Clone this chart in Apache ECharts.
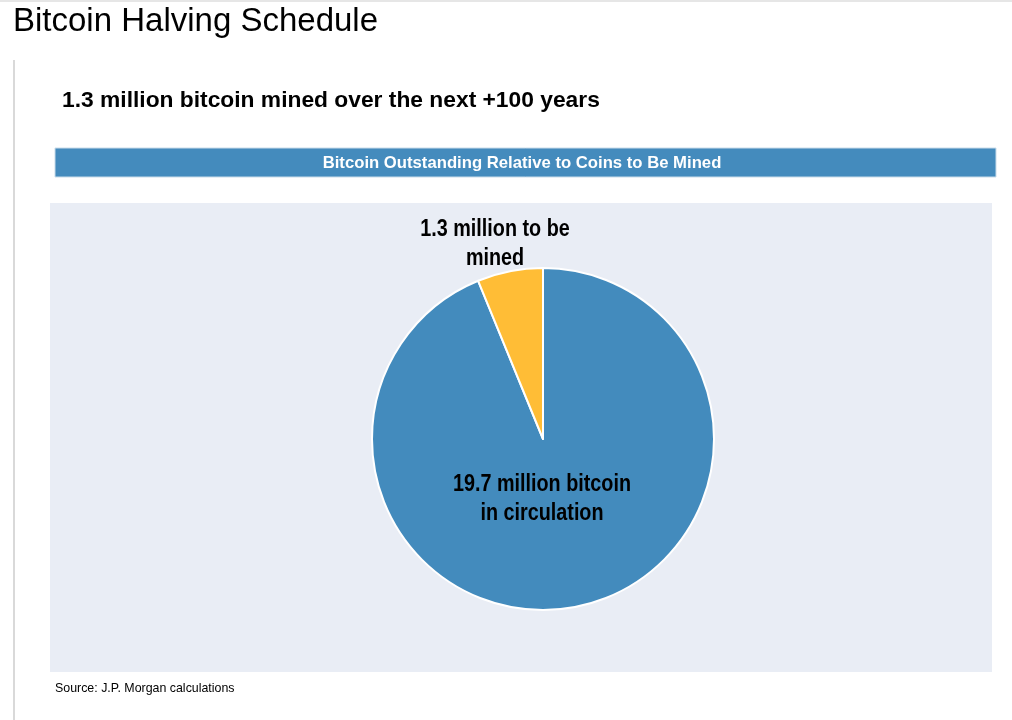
<!DOCTYPE html>
<html>
<head>
<meta charset="utf-8">
<script src="https://cdn.jsdelivr.net/npm/echarts@6/dist/echarts.min.js"></script>
<style>
html,body{margin:0;padding:0;background:#fff;}
#chart{width:1012px;height:720px;}
</style>
</head>
<body>
<div id="chart"></div>
<script>
const pageTitle = "Bitcoin Halving Schedule";
const subtitle = "1.3 million bitcoin mined over the next +100 years";
const bannerTitle = "Bitcoin Outstanding Relative to Coins to Be Mined";
const sourceNote = "Source: J.P. Morgan calculations";
const categories = ["19.7 million bitcoin\nin circulation", "1.3 million to be\nmined"];
const values = [19.7, 1.3];
const colors = ["#438bbd", "#ffbd36"];

const chart = echarts.init(document.getElementById('chart'));
const sans = "'Liberation Sans', Arial, sans-serif";
const labelFont = 'bold 24px ' + sans;
const labelPos = [[542, 499], [495, 243.5]];

chart.setOption({
  animation: false,
  backgroundColor: '#fff',
  graphic: [
    { type: 'rect', shape: { x: 0, y: 0, width: 1012, height: 2 }, style: { fill: '#e6e6e6' }, z: 0 },
    { type: 'rect', shape: { x: 13, y: 60, width: 2, height: 660 }, style: { fill: '#d9d9d9' }, z: 0 },
    { type: 'rect', shape: { x: 55, y: 148, width: 941, height: 29 }, style: { fill: '#448bbd', stroke: '#c9dcea', lineWidth: 1 }, z: 0 },
    { type: 'rect', shape: { x: 50, y: 203, width: 942, height: 469 }, style: { fill: '#e9edf5' }, z: 0 },
    { type: 'text', x: 13, y: 5, style: { text: pageTitle, font: '33px ' + sans, fill: '#000' }, z: 5 },
    { type: 'text', x: 62, y: 89.5, style: { text: subtitle, font: 'bold 22.8px ' + sans, fill: '#000' }, z: 5 },
    { type: 'text', x: 522, y: 163.5, style: { text: bannerTitle, font: 'bold 16.7px ' + sans, fill: '#fff', align: 'center', verticalAlign: 'middle' }, z: 5 },
    { type: 'text', x: 55, y: 683, style: { text: sourceNote, font: '12.4px ' + sans, fill: '#000' }, z: 5 }
  ].concat(categories.map((c, i) => ({
    type: 'text', x: labelPos[i][0], y: labelPos[i][1], scaleX: 0.824, z: 10,
    style: { text: c, font: labelFont, fill: '#000', align: 'center', verticalAlign: 'middle', lineHeight: 29 }
  }))),
  series: [{
    type: 'pie',
    center: [543, 439],
    radius: [0, 171],
    startAngle: 90,
    clockwise: true,
    z: 3,
    itemStyle: { borderColor: '#fff', borderWidth: 2 },
    label: { show: false },
    labelLine: { show: false },
    emphasis: { disabled: true },
    data: categories.map((c, i) => ({
      name: c,
      value: values[i],
      itemStyle: { color: colors[i] }
    }))
  }]
});
</script>
</body>
</html>
